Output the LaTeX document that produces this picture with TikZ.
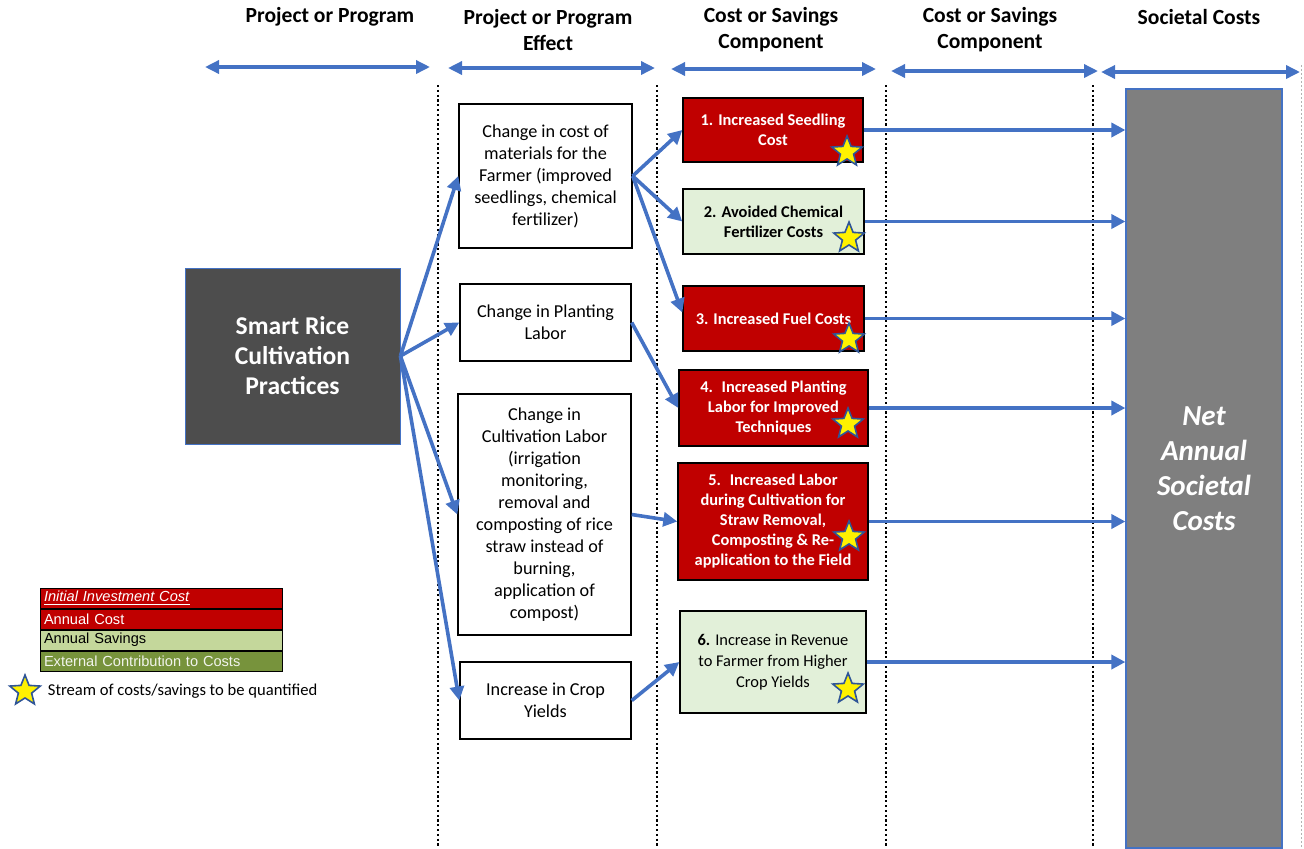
\documentclass[tikz,border=0pt]{standalone}
\usepackage{fontspec}
\setmainfont{Carlito}
\newfontfamily\legendfont{Liberation Sans}
\usepackage{tikz}
\usetikzlibrary{shapes.geometric, arrows.meta, positioning, calc}
\definecolor{ricered}{HTML}{C00000}
\definecolor{ricemint}{HTML}{E2F0D9}
\definecolor{ricesage}{HTML}{C4D79B}
\definecolor{riceolive}{HTML}{77933C}
\definecolor{ricedark}{HTML}{4D4D4D}
\definecolor{ricegray}{HTML}{7F7F7F}
\definecolor{riceblue}{HTML}{4472C4}
\definecolor{starrim}{HTML}{2F5597}

\begin{document}
\begin{tikzpicture}[
    x=0.5pt, y=-0.5pt,
    header/.style={font=\bfseries\fontsize{10.8}{13}\selectfont,align=center},
    effect/.style={draw=black,line width=0.7pt,fill=white,align=center,inner sep=1pt,font=\fontsize{9.1}{11}\selectfont},
    costbox/.style={draw=black,line width=0.7pt,fill=ricered,text=white,align=center,inner sep=1pt,font=\bfseries\fontsize{8.2}{10}\selectfont},
    savebox/.style={draw=black,line width=0.7pt,fill=ricemint,text=black,align=center,inner sep=1pt,font=\bfseries\fontsize{8.2}{10}\selectfont},
    qstar/.style={star,star points=5,star point ratio=2.3,minimum size=16pt,inner sep=0pt,fill=yellow,draw=starrim,line width=0.8pt},
    legrow/.style={draw=black,line width=0.5pt,minimum height=10pt,text width=117pt,inner xsep=2pt,inner ysep=0pt,align=left,font=\legendfont\fontsize{7.3}{8}\selectfont},
    flow/.style={-{Triangle[length=7pt,width=7pt]},line width=1.8pt,riceblue},
    span/.style={{Triangle[length=7pt,width=6.5pt]}-{Triangle[length=7pt,width=6.5pt]},line width=1.7pt,riceblue},
    lane/.style={line width=1.2pt,dash pattern=on 1.1pt off 1.3pt},
  ]
    \useasboundingbox (0,0) rectangle (1304,848);

    % column headers
    \node[header] (h1) at (330,17) {Project or Program};
    \node[header] (h2) at (548,30) {Project or Program\\Effect};
    \node[header] (h3) at (771,30) {Cost or Savings\\Component};
    \node[header] (h4) at (990,30) {Cost or Savings\\Component};
    \node[header] (h5) at (1199,17) {Societal Costs};
    \foreach \a/\b/\y [count=\i] in {205/430/67, 448/655/68, 671/876/69, 891/1098/71, 1101/1300/72} {
      \coordinate (hl\i) at (\a,\y);
      \coordinate (hr\i) at (\b,\y);
      \draw[span] (hl\i) -- (hr\i);
    }

    % lanes
    \foreach \x in {438,657,886,1093}
      \draw[lane] (\x,85) -- (\x,848);
    \draw[gray!60,line width=0.4pt,dash pattern=on 1pt off 1pt] (1301,65) -- (1301,848);

    % project
    \node[draw=riceblue,line width=0.4pt,fill=ricedark,text=white,minimum width=107.5pt,minimum height=88pt,align=center,font=\bfseries\fontsize{12.8}{15}\selectfont] (sr) at (292.5,356) {Smart Rice\\Cultivation\\Practices};

    % effects
    \node[effect,minimum width=86.5pt,minimum height=72pt] (e1) at (545.5,176) {Change in cost of\\materials for the\\Farmer (improved\\seedlings, chemical\\fertilizer)};
    \node[effect,minimum width=85.5pt,minimum height=38.5pt] (e2) at (545.5,322.5) {Change in Planting\\Labor};
    \node[effect,minimum width=86.5pt,minimum height=120.5pt] (e3) at (544.5,514.5) {Change in\\Cultivation Labor\\(irrigation\\monitoring,\\removal and\\composting of rice\\straw instead of\\burning,\\application of\\compost)};
    \node[effect,minimum width=85.5pt,minimum height=38.5pt] (e4) at (545.5,700.5) {Increase in Crop\\Yields};

    % cost or savings components
    \node[costbox,minimum width=90pt,minimum height=32pt] (c1) at (773,130) {1. Increased Seedling\\Cost};
    \node[savebox,minimum width=90.5pt,minimum height=32.5pt] (c2) at (773.5,221.5) {2. Avoided Chemical\\Fertilizer Costs};
    \node[costbox,minimum width=90.5pt,minimum height=32.5pt] (c3) at (773.5,318.5) {3. Increased Fuel Costs};
    \node[costbox,minimum width=94.5pt,minimum height=38pt] (c4) at (773.5,408) {4.~ Increased Planting\\Labor for Improved\\Techniques};
    \node[costbox,minimum width=95pt,minimum height=58.5pt] (c5) at (773,521.5) {5.~ Increased Labor\\during Cultivation for\\Straw Removal,\\Composting \& Re-\\application to the Field};
    \node[savebox,minimum width=93pt,minimum height=51pt,font=\fontsize{8.2}{10.5}\selectfont] (c6) at (773,662) {\textbf{6.} Increase in Revenue\\to Farmer from Higher\\Crop Yields};

    \node[qstar] (s1) at (847,152) {};
    \node[qstar] (s2) at (849,238) {};
    \node[qstar] (s3) at (849,339) {};
    \node[qstar] (s4) at (848,424) {};
    \node[qstar] (s5) at (849,537) {};
    \node[qstar] (s6) at (848,689) {};

    % societal costs
    \node[draw=riceblue,line width=0.6pt,fill=ricegray,text=white,minimum width=78pt,minimum height=379.5pt,align=center,font=\bfseries\itshape\fontsize{14.5}{17.5}\selectfont] (net) at (1204,468.5) {Net\\Annual\\Societal\\Costs};

    \draw[flow] (sr.east) -- (e1.west);
    \draw[flow] (sr.east) -- (e2.west);
    \draw[flow] (sr.east) -- (e3.west);
    \draw[flow] (sr.east) -- (e4.west);

    \draw[flow] (e1.east) -- (c1.west);
    \draw[flow] (e1.east) -- (c2.west);
    \draw[flow] (e1.east) -- ([yshift=3pt]c3.west);
    \draw[flow] (e2.east) -- (c4.west);
    \draw[flow] (e3.east) -- (c5.west);
    \draw[flow] (e4.east) -- (c6.west);

    \foreach \i in {1,...,6}
      \draw[flow] (c\i.east) -- (c\i.east -| net.west);

    % legend
    \node[legrow,fill=ricered,text=white] (l1) at (161,598) {\underline{\textit{Initial Investment Cost}}};
    \node[legrow,fill=ricered,text=white,below=0pt of l1] (l2) {Annual Cost};
    \node[legrow,fill=ricesage,text=black,below=0pt of l2] (l3) {Annual Savings};
    \node[legrow,fill=riceolive,text=white!90!riceolive,below=0pt of l3] (l4) {External Contribution to Costs};
    \node[qstar] (ls) at (25,691) {};
    \node[right=6pt of ls,inner sep=0pt,font=\fontsize{8.3}{9}\selectfont] (lt) {Stream of costs/savings to be quantified};
  \end{tikzpicture}
\end{document}
